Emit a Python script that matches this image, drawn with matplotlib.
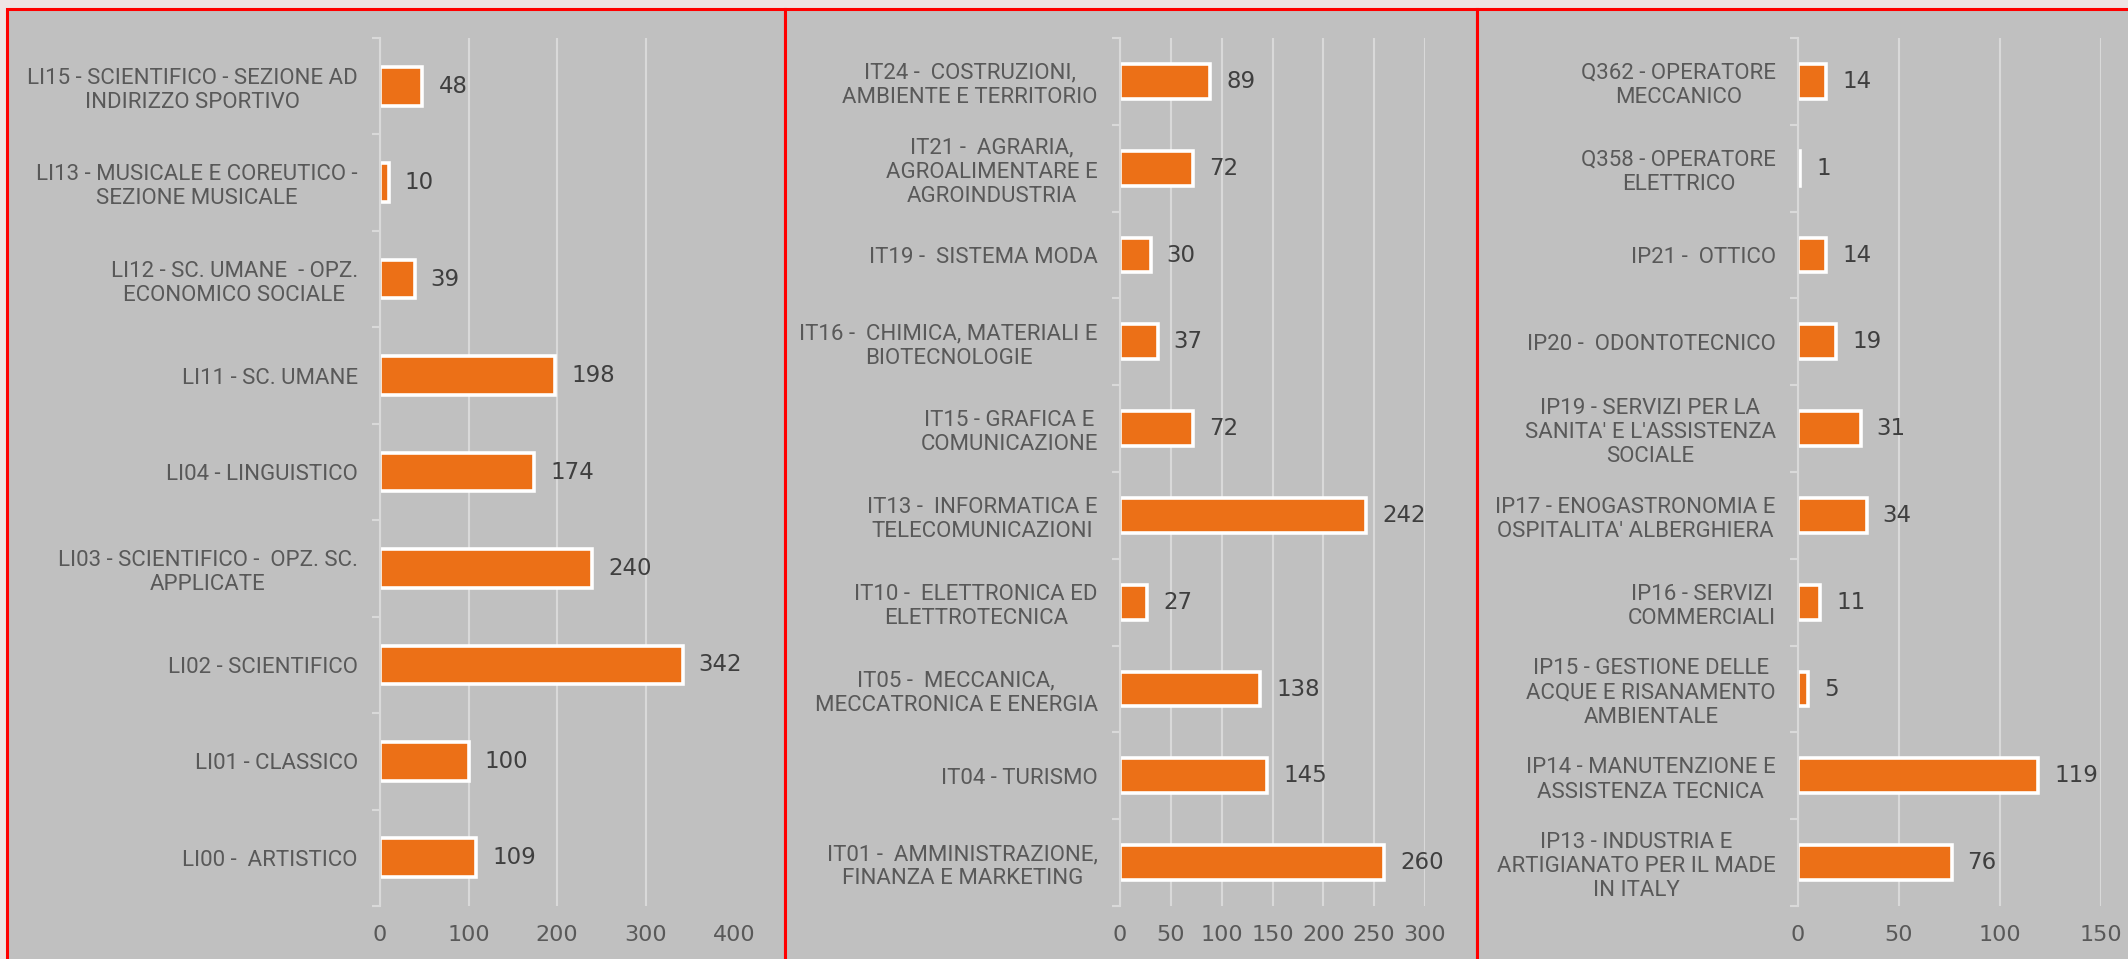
import numpy as np
import matplotlib
matplotlib.use('Agg')
import matplotlib.pyplot as plt
from matplotlib.patches import Rectangle

# data, top to bottom as shown
licei_labels = ['LI15 - SCIENTIFICO - SEZIONE AD\nINDIRIZZO SPORTIVO',
                'LI13 - MUSICALE E COREUTICO -\nSEZIONE MUSICALE',
                'LI12 - SC. UMANE  - OPZ.\nECONOMICO SOCIALE',
                'LI11 - SC. UMANE',
                'LI04 - LINGUISTICO',
                'LI03 - SCIENTIFICO -  OPZ. SC.\nAPPLICATE',
                'LI02 - SCIENTIFICO',
                'LI01 - CLASSICO',
                'LI00 -  ARTISTICO']
licei_values = [48, 10, 39, 198, 174, 240, 342, 100, 109]
licei_ticks = [0, 100, 200, 300, 400]

tecnici_labels = ['IT24 -  COSTRUZIONI,\nAMBIENTE E TERRITORIO',
                  'IT21 -  AGRARIA,\nAGROALIMENTARE E\nAGROINDUSTRIA',
                  'IT19 -  SISTEMA MODA',
                  'IT16 -  CHIMICA, MATERIALI E\nBIOTECNOLOGIE',
                  'IT15 - GRAFICA E\nCOMUNICAZIONE',
                  'IT13 -  INFORMATICA E\nTELECOMUNICAZIONI',
                  'IT10 -  ELETTRONICA ED\nELETTROTECNICA',
                  'IT05 -  MECCANICA,\nMECCATRONICA E ENERGIA',
                  'IT04 - TURISMO',
                  'IT01 -  AMMINISTRAZIONE,\nFINANZA E MARKETING']
tecnici_values = [89, 72, 30, 37, 72, 242, 27, 138, 145, 260]
tecnici_ticks = [0, 50, 100, 150, 200, 250, 300]

prof_labels = ['Q362 - OPERATORE\nMECCANICO',
               'Q358 - OPERATORE\nELETTRICO',
               'IP21 -  OTTICO',
               'IP20 -  ODONTOTECNICO',
               "IP19 - SERVIZI PER LA\nSANITA' E L'ASSISTENZA\nSOCIALE",
               "IP17 - ENOGASTRONOMIA E\nOSPITALITA' ALBERGHIERA",
               'IP16 - SERVIZI\nCOMMERCIALI',
               'IP15 - GESTIONE DELLE\nACQUE E RISANAMENTO\nAMBIENTALE',
               'IP14 - MANUTENZIONE E\nASSISTENZA TECNICA',
               'IP13 - INDUSTRIA E\nARTIGIANATO PER IL MADE\nIN ITALY']
prof_values = [14, 1, 14, 19, 31, 34, 11, 5, 119, 76]
prof_ticks = [0, 50, 100, 150]

W, H = 2128, 959
BG = '#C0C0C0'
ORANGE = '#EC7017'
GRID = '#D9D9D9'
LABEL_FONT = ['Liberation Sans Narrow', 'Roboto', 'DejaVu Sans']
NUM_FONT = ['DejaVu Sans']

fig = plt.figure(figsize=(W / 100, H / 100), dpi=100, facecolor='#EEE4E4')

# gray panels with red frames (pixel coords from left / top)
for x0, x1 in [(7, 784.5), (784.5, 1476.5), (1476.5, 2140)]:
    fig.add_artist(Rectangle((x0 / W, -0.05), (x1 - x0) / W, 1.05 - 8.5 / H,
                             transform=fig.transFigure, facecolor=BG,
                             edgecolor='#FF0000', linewidth=2.2, zorder=0))

bottom = 1 - 906 / H
top = 1 - 38 / H
panels = [
    (licei_labels, licei_values, licei_ticks, 380, 734, False),
    (tecnici_labels, tecnici_values, tecnici_ticks, 1120, 1425, True),
    (prof_labels, prof_values, prof_ticks, 1798, 2101, True),
]

for labels, values, ticks, px0, px1, last_grid in panels:
    ax = fig.add_axes([px0 / W, bottom, (px1 - px0) / W, top - bottom])
    ax.set_facecolor('none')
    n = len(values)
    y = np.arange(n)
    ax.barh(y, values, height=0.4, color=ORANGE, edgecolor='white',
            linewidth=2.6, zorder=3)
    for yi, v in zip(y, values):
        ax.annotate(str(v), (v, yi), xytext=(16, 0), textcoords='offset pixels',
                    ha='left', va='center', fontsize=16.5, color='#3F3F3F',
                    family=NUM_FONT)
    ax.set_ylim(n - 0.5, -0.5)
    ax.set_xlim(ticks[0], ticks[-1])
    ax.set_xticks(ticks)
    ax.set_xticklabels([str(t) for t in ticks], fontsize=16, color='#595959',
                       family=NUM_FONT)
    ax.set_yticks(y)
    ax.set_yticklabels(labels, fontsize=16, color='#595959', family=LABEL_FONT,
                       multialignment='center', linespacing=1.2)
    ax.set_yticks(np.arange(-0.5, n, 1), minor=True)
    ax.tick_params(axis='x', length=0, pad=14)
    ax.tick_params(axis='y', which='major', length=0, pad=16)
    ax.tick_params(axis='y', which='minor', length=6, width=1.5, color=GRID)
    for s in ['top', 'right', 'bottom']:
        ax.spines[s].set_visible(False)
    ax.spines['left'].set_color(GRID)
    ax.spines['left'].set_linewidth(1.5)
    ax.spines['left'].set_zorder(4)
    ax.xaxis.grid(True, color=GRID, linewidth=1.5, zorder=1)
    ax.set_axisbelow(True)
    if not last_grid:
        ax.get_xgridlines()[-1].set_visible(False)

fig.savefig('out.png', dpi=100, facecolor=fig.get_facecolor())
